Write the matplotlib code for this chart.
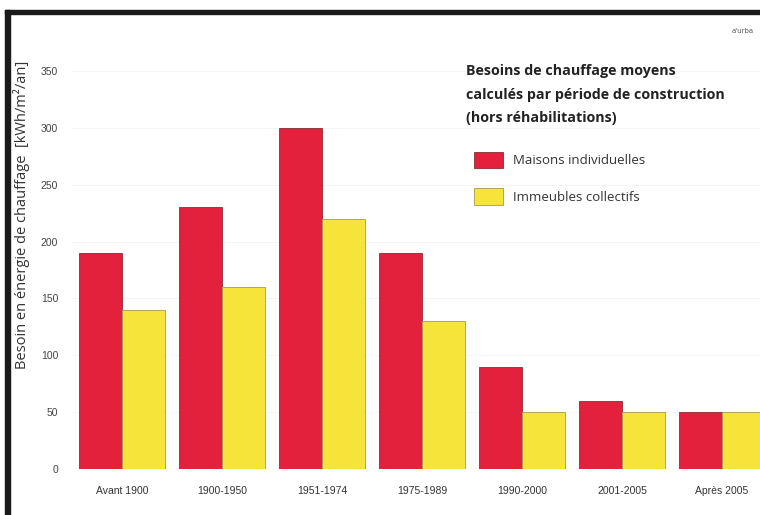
import matplotlib.pyplot as plt
import numpy as np
from matplotlib.patches import Rectangle

# --- Data ---
periodes = ['Avant 1900', '1900-1950', '1951-1974', '1975-1989',
            '1990-2000', '2001-2005', 'Après 2005']
maisons = [190, 230, 300, 190, 90, 60, 50]
immeubles = [140, 160, 220, 130, 50, 50, 50]
yticks = [0, 50, 100, 150, 200, 250, 300, 350]

RED = '#e4213d'
YELLOW = '#f6e43a'

fig = plt.figure(figsize=(7.6, 5.15), dpi=100)
fig.patch.set_facecolor('white')

ax = fig.add_axes([72 / 760, 46 / 515, 688 / 760, 439 / 515])
x = np.arange(len(periodes))
w = 0.43
b1 = ax.bar(x - w / 2, maisons, w, color=RED, edgecolor='#8c2a35',
            linewidth=0.6, label='Maisons individuelles', zorder=2)
b2 = ax.bar(x + w / 2, immeubles, w, color=YELLOW, edgecolor='#a89a50',
            linewidth=0.6, label='Immeubles collectifs', zorder=2)

ax.set_xlim(-0.5, 6.38)
ax.set_ylim(0, 386)
ax.set_yticks(yticks)
ax.set_xticks(x)
ax.set_xticklabels(periodes, fontsize=7.5, color='#333333',
                   family='Liberation Sans')
ax.set_yticklabels([str(v) for v in yticks], fontsize=7.5, color='#444444',
                   family='Liberation Sans')
ax.tick_params(length=0, pad=10)
ax.tick_params(axis='x', pad=12)
ax.grid(axis='y', color='#f2f2f2', linewidth=0.6, zorder=0)
for s in ax.spines.values():
    s.set_visible(False)

fig.text(22 / 760, 1 - 215 / 515,
         'Besoin en énergie de chauffage  [kWh/m²/an]',
         rotation=90, ha='center', va='center', fontsize=10.5,
         color='#333333', family='Open Sans')

# Title block
title_lines = ['Besoins de chauffage moyens',
               'calculés par période de construction',
               '(hors réhabilitations)']
for i, line in enumerate(title_lines):
    fig.text(466 / 760, 1 - (71 + 23.5 * i) / 515, line, ha='left',
             va='center', fontsize=10.3, fontweight='bold',
             color='#222222', family='Open Sans')

leg = ax.legend(handles=[b1, b2], loc='upper left',
                bbox_to_anchor=(462 / 760, 1 - 140 / 515),
                bbox_transform=fig.transFigure, frameon=False,
                handlelength=2.2, handleheight=1.5,
                labelspacing=1.55, handletextpad=0.75,
                prop={'family': 'Open Sans', 'size': 9.5})
for t in leg.get_texts():
    t.set_color('#333333')

# logo mark
fig.text(743 / 760, 1 - 31 / 515, "a'urba", ha='center', va='center',
         fontsize=5, color='#555555')

# scan border
fig.patches.append(Rectangle((5 / 760, 1 - 14 / 515), 755 / 760, 4 / 515,
                             transform=fig.transFigure, color='#1a1a1a'))
fig.patches.append(Rectangle((5 / 760, 0), 5 / 760, 1 - 10 / 515,
                             transform=fig.transFigure, color='#1a1a1a'))

plt.savefig('out.png', dpi=100)
